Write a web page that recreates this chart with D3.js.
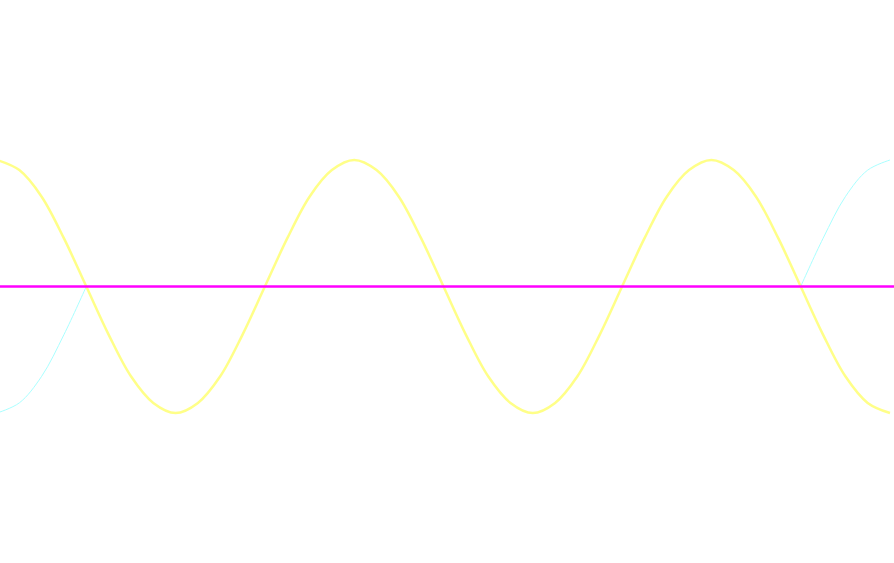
<!DOCTYPE html>
<html><head><meta charset="utf-8">
<script src="https://cdn.jsdelivr.net/npm/d3@7"></script>
<style>html,body{margin:0;padding:0;background:#fff;}svg{display:block;}</style>
</head><body>
<svg id="chart" width="894" height="563"></svg>
<script>
// sample positions (steps of pi/8)
const steps = [0,1,2,3,4,5,6,7,8,9,10,11,12,13,14,15,16,17,18,19,20,21,22,23,24,25,26,27,28,29,30,31,32,33,34,35,36,37,38,39,40];
const yellowValues = [1,0.92,0.71,0.38,0,-0.38,-0.71,-0.92,-1,-0.92,-0.71,-0.38,0,0.38,0.71,0.92,
  1,0.92,0.71,0.38,0,-0.38,-0.71,-0.92,-1,-0.92,-0.71,-0.38,0,0.38,0.71,0.92,
  1,0.92,0.71,0.38,0,-0.38,-0.71,-0.92,-1];
// cyan only visible at the two ends (elsewhere hidden under the yellow curve)
const cyanValues = [-1,-0.92,-0.71,-0.38,0,null,null,null,null,null,null,null,null,null,null,null,
  null,null,null,null,null,null,null,null,null,null,null,null,null,null,null,null,
  null,null,null,null,0,0.38,0.71,0.92,1];
const magentaValues = [0,0,0,0,0,0,0,0,0,0,0,0,0,0,0,0,0,0,0,0,0,0,0,0,0,0,0,0,0,0,0,0,0,0,0,0,0,0,0,0,0];

const svg = d3.select("#chart");
const x = d3.scaleLinear().domain([0, 40]).range([-3, 890]);
const y = d3.scaleLinear().domain([-1, 1]).range([413, 160]);

function path(vals) {
  return d3.line()
    .defined(d => d !== null)
    .x((d, i) => x(steps[i])).y(d => y(d))
    .curve(d3.curveCatmullRom.alpha(0.5))(vals);
}

svg.append("path").attr("d", path(cyanValues)).attr("fill", "none")
  .attr("stroke", "#aaffff").attr("stroke-width", 1);
svg.append("path").attr("d", path(yellowValues)).attr("fill", "none")
  .attr("stroke", "#ffff88").attr("stroke-width", 2.5);
svg.append("path")
  .attr("d", d3.line().x((d, i) => i === 0 ? 0 : (i === steps.length - 1 ? 894 : x(steps[i]))).y(d => y(d))(magentaValues))
  .attr("fill", "none")
  .attr("stroke", "#ff00ff").attr("stroke-width", 2.5);
</script>
</body></html>
